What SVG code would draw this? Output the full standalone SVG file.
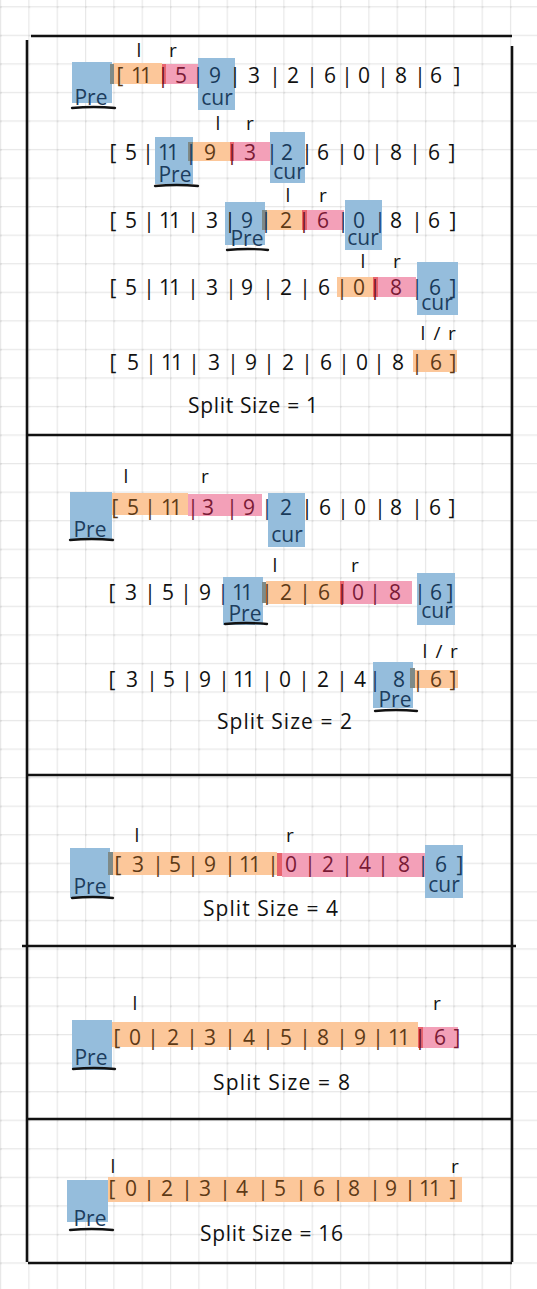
<svg xmlns="http://www.w3.org/2000/svg" width="537" height="1289" viewBox="0 0 537 1289">
<style>
.d{font-family:"Open Sans","Liberation Sans",sans-serif;font-size:21px;font-weight:400;fill:#111;text-anchor:middle}
.lb{font-family:"Open Sans","Liberation Sans",sans-serif;font-size:19px;font-weight:400;fill:#111;text-anchor:middle}
.pc{font-family:"Open Sans","Liberation Sans",sans-serif;font-size:21px;font-weight:400;fill:#1d3d5e;text-anchor:middle}
.ss{font-family:"Open Sans","Liberation Sans",sans-serif;font-size:21px;font-weight:400;fill:#111}
.o{fill:#5e3a16}.p{fill:#7a1a35}.b{fill:#183a5a}.r{fill:#6b0f18}
.hb{fill:#95bddc}.ho{fill:#fcc79a}.hp{fill:#f3a0b8}.hr{fill:#e8646e}.hg{fill:#7e8a88}
.ul{stroke:#111;stroke-width:2.4;stroke-linecap:round;fill:none}
.bd{stroke:#111;stroke-width:2.6;fill:none}
</style>
<defs>
<pattern id="grid" width="28.33" height="28.55" patternUnits="userSpaceOnUse" x="0" y="6.2">
<path d="M0 0.6H28.33M0.6 0V28.55" stroke="#e8e8e8" stroke-width="1.2" fill="none"/>
<circle cx="0.6" cy="0.6" r="1.2" fill="#d6d6d6"/>
</pattern>
</defs>
<rect width="537" height="1289" fill="#fff"/>
<rect width="537" height="1289" fill="url(#grid)"/>

<g id="frame">
<path class="bd" d="M31 36H512M27 40V1262M512 46V1262M26 435H513M26 775H513M22 946H516M26 1119H513M28 1263H512"/>
</g>

<g id="split1">
<g id="s1-row1">
<rect class="hb" x="72" y="62" width="40" height="41"/>
<rect class="ho" x="113" y="63" width="49" height="21"/>
<rect class="hp" x="166" y="64" width="32" height="20"/>
<rect class="hr" x="162" y="64" width="4" height="20"/>
<rect class="hg" x="110" y="64" width="4" height="20"/>
<rect class="hb" x="198" y="58" width="37" height="52"/>
<text class="lb" x="139" y="57">l</text><text class="lb" x="173" y="57">r</text>
<text class="d" y="83"><tspan class="o" x="120 137 146">[11</tspan><tspan class="r" x="163">|</tspan><tspan class="p" x="181">5</tspan><tspan class="b" x="198 215">|9</tspan><tspan x="235 254 275 293 312 330 347 364 383 401 420 436 457">|3|2|6|0|8|6]</tspan></text>
<text class="pc" x="91" y="105">Pre</text><path class="ul" d="M72 108Q94 106 115 108"/>
<text class="pc" x="217" y="105">cur</text>
</g>
<g id="s1-row2">
<rect class="hb" x="155" y="137" width="38" height="47"/>
<rect class="ho" x="193" y="142" width="37" height="19"/>
<rect class="hp" x="234" y="142" width="36" height="19"/>
<rect class="hr" x="230" y="142" width="4" height="19"/>
<rect class="hg" x="188" y="142" width="5" height="19"/>
<rect class="hb" x="270" y="132" width="35" height="51"/>
<text class="lb" x="218" y="130">l</text><text class="lb" x="250" y="130">r</text>
<text class="d" y="160"><tspan x="113 131 148">[5|</tspan><tspan class="b" x="164 173 191">11|</tspan><tspan class="o" x="210">9</tspan><tspan class="r" x="232">|</tspan><tspan class="p" x="250">3</tspan><tspan class="b" x="272 287">|2</tspan><tspan x="307 323 342 359 377 396 415 434 452">|6|0|8|6]</tspan></text>
<text class="pc" x="175" y="182">Pre</text><path class="ul" d="M155 186Q177 184 198 186"/>
<text class="pc" x="289" y="179">cur</text>
</g>
<g id="s1-row3">
<rect class="hb" x="225" y="202" width="40" height="43"/>
<rect class="ho" x="267" y="210" width="35" height="20"/>
<rect class="hp" x="307" y="210" width="37" height="20"/>
<rect class="hr" x="302" y="210" width="5" height="20"/>
<rect class="hg" x="262" y="210" width="5" height="20"/>
<rect class="hb" x="345" y="200" width="37" height="50"/>
<text class="lb" x="288" y="202">l</text><text class="lb" x="323" y="202">r</text>
<text class="d" y="228"><tspan x="113 131 149 165 175 193 212 230">[5|11|3|</tspan><tspan class="b" x="247 266">9|</tspan><tspan class="o" x="286">2</tspan><tspan class="r" x="304">|</tspan><tspan class="p" x="323">6</tspan><tspan class="b" x="343 359 380">|0|</tspan><tspan x="396 417 434 453">8|6]</tspan></text>
<text class="pc" x="247" y="246">Pre</text><path class="ul" d="M227 250Q248 248 268 250"/>
<text class="pc" x="363" y="245">cur</text>
</g>
<g id="s1-row4">
<rect class="ho" x="337" y="277" width="36" height="20"/>
<rect class="hp" x="378" y="277" width="38" height="20"/>
<rect class="hr" x="373" y="277" width="5" height="20"/>
<rect class="hb" x="417" y="262" width="41" height="53"/>
<text class="lb" x="363" y="268">l</text><text class="lb" x="397" y="268">r</text>
<text class="d" y="295"><tspan x="113 131 149 165 175 193 212 231 247 268 286 305 324">[5|11|3|9|2|6</tspan><tspan class="o" x="342 359">|0</tspan><tspan class="r" x="375">|</tspan><tspan class="p" x="396">8</tspan><tspan class="b" x="417 435 453">|6]</tspan></text>
<text class="pc" x="437" y="310">cur</text>
</g>
<g id="s1-row5">
<rect class="ho" x="413" y="350" width="44" height="22"/>
<text class="lb" x="423 437 452" y="340">l/r</text>
<text class="d" y="370"><tspan x="113 133 151 167 177 194 214 233 251 269 288 307 326 344 362 379 398">[5|11|3|9|2|6|0|8</tspan><tspan class="o" x="417 436 453">|6]</tspan></text>
</g>
<text class="ss" x="188" y="413" textLength="130">Split Size = 1</text>
</g>

<g id="split2">
<g id="s2-row1">
<rect class="hb" x="70" y="492" width="42" height="48"/>
<rect class="ho" x="112" y="493" width="76" height="22"/>
<rect class="hp" x="188" y="494" width="74" height="22"/>
<rect class="hb" x="268" y="493" width="37" height="54"/>
<text class="lb" x="126" y="483">l</text><text class="lb" x="205" y="483">r</text>
<text class="d" y="515"><tspan class="o" x="115 133 150 167 176">[5|11</tspan><tspan class="p" x="193 208 232 249">|3|9</tspan><tspan class="b" x="267 286">|2</tspan><tspan x="307 325 343 360 380 396 417 435 452">|6|0|8|6]</tspan></text>
<text class="pc" x="90" y="537">Pre</text><path class="ul" d="M70 540Q92 538 113 540"/>
<text class="pc" x="287" y="542">cur</text>
</g>
<g id="s2-row2">
<rect class="hb" x="223" y="577" width="40" height="48"/>
<rect class="ho" x="266" y="581" width="74" height="23"/>
<rect class="hp" x="344" y="581" width="68" height="23"/>
<rect class="hr" x="340" y="581" width="4" height="23"/>
<rect class="hg" x="262" y="582" width="4" height="21"/>
<rect class="hb" x="417" y="573" width="38" height="52"/>
<text class="lb" x="275" y="572">l</text><text class="lb" x="355" y="572">r</text>
<text class="d" y="600"><tspan x="112 131 150 168 186 205">[3|5|9</tspan><tspan class="b" x="223 238 247">|11</tspan><tspan class="o" x="267 286 305 324">|2|6</tspan><tspan class="r" x="342">|</tspan><tspan class="p" x="358 375 395">0|8</tspan><tspan class="b" x="420 436 450">|6]</tspan></text>
<text class="pc" x="245" y="621">Pre</text><path class="ul" d="M225 624Q246 622 267 624"/>
<text class="pc" x="437" y="618">cur</text>
</g>
<g id="s2-row3">
<rect class="hb" x="373" y="662" width="40" height="46"/>
<rect class="ho" x="415" y="670" width="43" height="18"/>
<rect class="hg" x="410" y="668" width="5" height="20"/>
<text class="lb" x="425 439 454" y="658">l/r</text>
<text class="d" y="687"><tspan x="112 132 152 169 187 205 224 239 249 267 285 304 323 342 360">[3|5|9|11|0|2|4</tspan><tspan class="b" x="375 399">|8</tspan><tspan class="o" x="418 436 453">|6]</tspan></text>
<text class="pc" x="395" y="707">Pre</text><path class="ul" d="M375 711Q396 709 417 711"/>
</g>
<text class="ss" x="217" y="729" textLength="135">Split Size = 2</text>
</g>

<g id="split4">
<rect class="hb" x="70" y="848" width="40" height="50"/>
<rect class="ho" x="112" y="852" width="165" height="23"/>
<rect class="hp" x="282" y="853" width="143" height="24"/>
<rect class="hr" x="277" y="853" width="5" height="23"/>
<rect class="hg" x="108" y="852" width="5" height="23"/>
<rect class="hb" x="425" y="845" width="38" height="53"/>
<text class="lb" x="137" y="842">l</text><text class="lb" x="290" y="842">r</text>
<text class="d" y="872"><tspan class="o" x="118 138 158 175 193 210 230 245 255 273">[3|5|9|11|</tspan><tspan class="p" x="291 310 328 347 365 383 404">0|2|4|8</tspan><tspan class="b" x="423 441 460">|6]</tspan></text>
<text class="pc" x="90" y="894">Pre</text><path class="ul" d="M72 898Q93 896 113 898"/>
<text class="pc" x="444" y="892">cur</text>
<text class="ss" x="203" y="916" textLength="135">Split Size = 4</text>
</g>

<g id="split8">
<rect class="hb" x="72" y="1020" width="40" height="50"/>
<rect class="ho" x="112" y="1022" width="306" height="25"/>
<rect class="hp" x="423" y="1027" width="35" height="21"/>
<rect class="hr" x="418" y="1027" width="5" height="21"/>
<text class="lb" x="135" y="1010">l</text><text class="lb" x="437" y="1010">r</text>
<text class="d" y="1045"><tspan class="o" x="117 135 153 173 192 210 230 249 268 286 305 323 342 360 378 394 404">[0|2|3|4|5|8|9|11</tspan><tspan class="r" x="420">|</tspan><tspan class="p" x="440 457">6]</tspan></text>
<text class="pc" x="91" y="1065">Pre</text><path class="ul" d="M73 1069Q94 1067 115 1069"/>
<text class="ss" x="213" y="1090" textLength="137">Split Size = 8</text>
</g>

<g id="split16">
<rect class="hb" x="67" y="1180" width="41" height="42"/>
<rect class="ho" x="108" y="1177" width="354" height="25"/>
<text class="lb" x="113" y="1173">l</text><text class="lb" x="455" y="1173">r</text>
<text class="d" y="1196"><tspan class="o" x="112 131 149 167 187 205 225 242 263 280 301 319 338 354 375 391 410 425 435 453">[0|2|3|4|5|6|8|9|11]</tspan></text>
<text class="pc" x="90" y="1226">Pre</text><path class="ul" d="M70 1230Q92 1228 113 1230"/>
<text class="ss" x="200" y="1241" textLength="143">Split Size = 16</text>
</g>
</svg>
